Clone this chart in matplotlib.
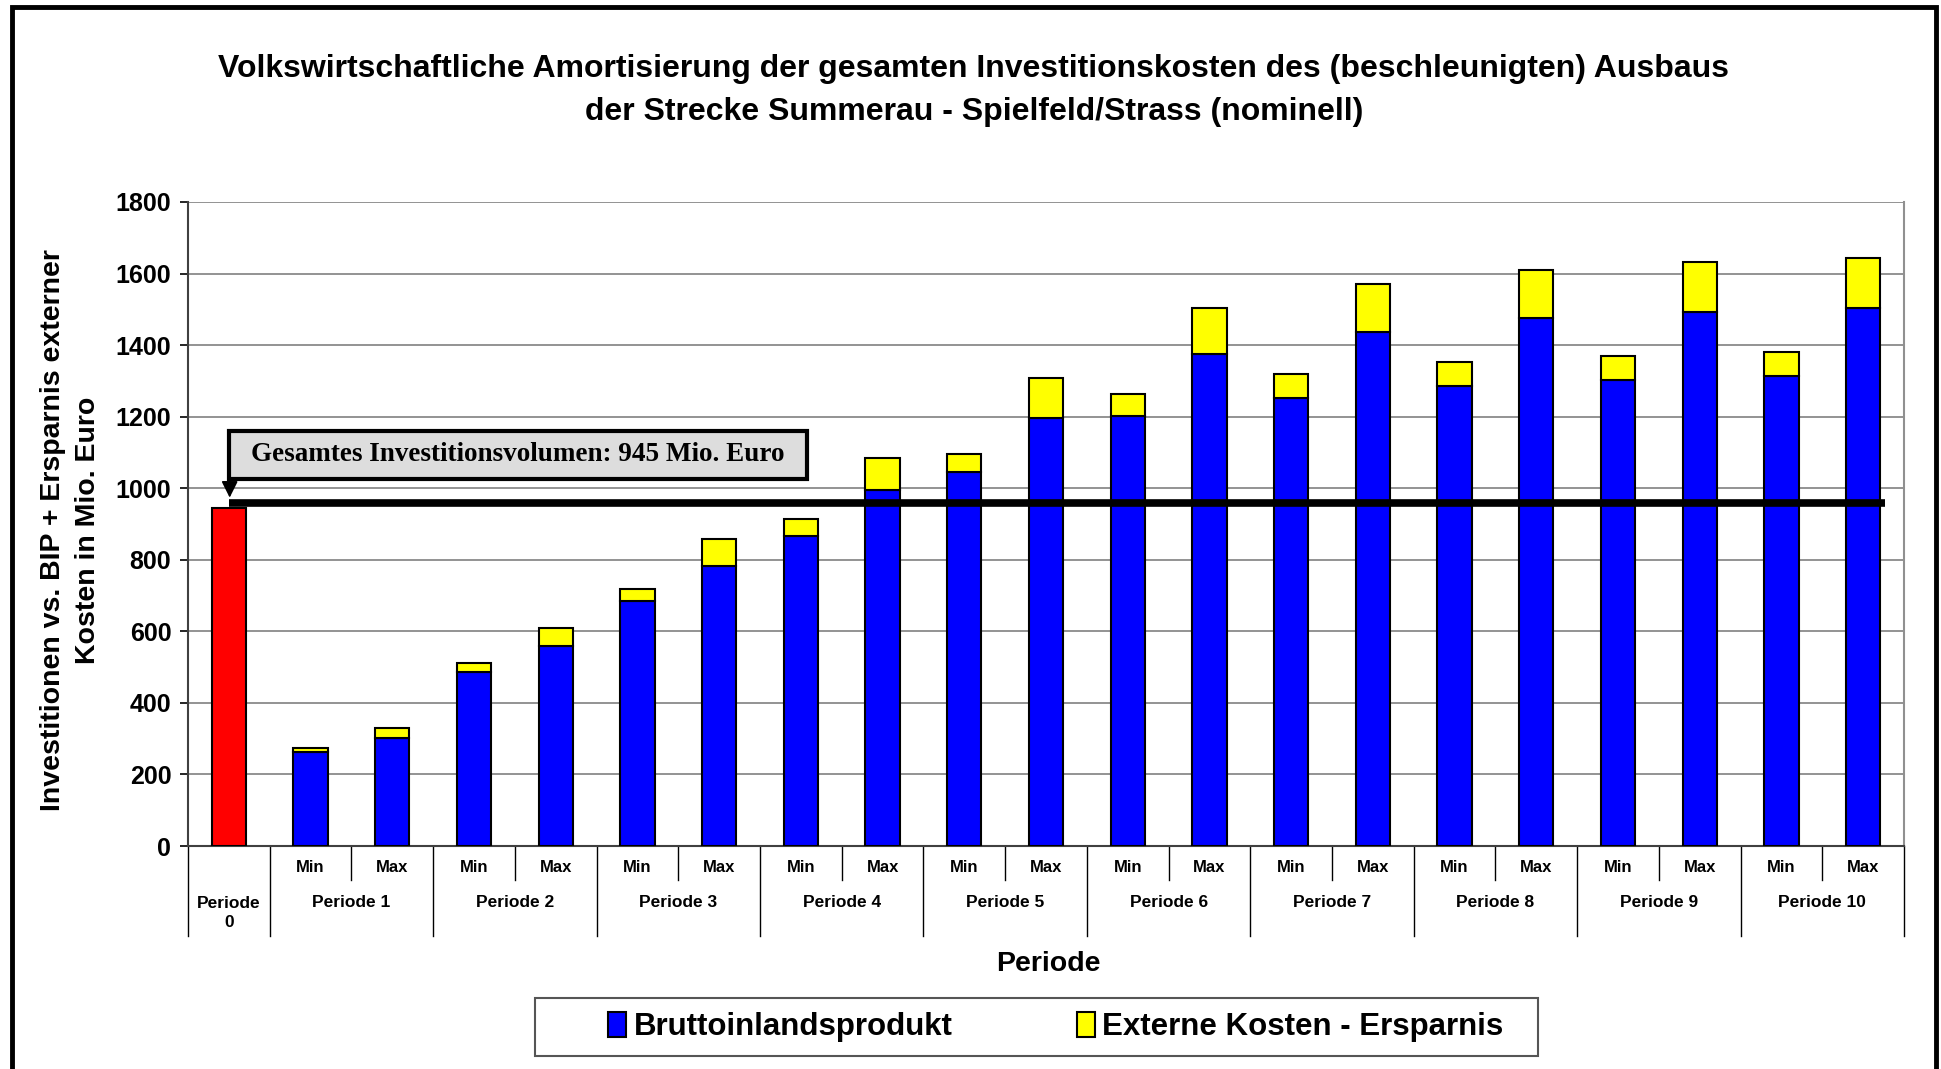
import matplotlib.pyplot as plt
from matplotlib.patches import Rectangle, Patch

plt.rcParams['font.family'] = ['Liberation Sans', 'DejaVu Sans']

# data (Mio. Euro)
perioden = ["Periode 1", "Periode 2", "Periode 3", "Periode 4", "Periode 5",
            "Periode 6", "Periode 7", "Periode 8", "Periode 9", "Periode 10"]
varianten = ["Min", "Max"]
investition = 945
bip_min = [263, 487, 684, 867, 1046, 1203, 1253, 1287, 1303, 1314]
bip_max = [303, 560, 783, 996, 1197, 1376, 1438, 1477, 1493, 1505]
ext_min = [12, 24, 33, 47, 51, 61, 67, 67, 67, 68]
ext_max = [28, 50, 74, 89, 112, 129, 134, 134, 140, 139]
schwelle = 960

W, H = 1941, 1069
fig = plt.figure(figsize=(W / 100, H / 100), dpi=100)
ax = fig.add_axes([188 / W, 223 / H, 1716 / W, 644 / H])

# interleave min / max
bip, ext = [], []
for i in range(len(perioden)):
    bip += [bip_min[i], bip_max[i]]
    ext += [ext_min[i], ext_max[i]]
x = list(range(1, len(bip) + 1))

bw = 0.42
ax.bar(0, investition, width=bw, color='#ff0000', edgecolor='black', linewidth=1.5, zorder=3)
ax.bar(x, bip, width=bw, color='#0000ff', edgecolor='black', linewidth=1.5, zorder=3)
ax.bar(x, ext, bottom=bip, width=bw, color='#ffff00', edgecolor='black', linewidth=1.5, zorder=3)

# thick line for the investment volume
ax.plot([0, 20.27], [schwelle, schwelle], color='black', lw=5.5, solid_capstyle='butt', zorder=4)

ax.set_xlim(-0.5, 20.5)
ax.set_ylim(0, 1800)
ax.set_yticks(range(0, 1801, 200))
ax.tick_params(axis='y', labelsize=18, length=6, width=1.2, pad=6)
for t in ax.get_yticklabels():
    t.set_fontweight('bold')
ax.set_xticks([])
ax.yaxis.grid(True, color='#808080', lw=1.2)
ax.set_axisbelow(True)
ax.spines['top'].set_visible(False)
ax.spines['right'].set_color('#909090')
ax.spines['right'].set_linewidth(1.5)
ax.spines['left'].set_color('#404040')
ax.spines['left'].set_linewidth(1.5)
ax.spines['bottom'].set_color('#404040')
ax.spines['bottom'].set_linewidth(1.5)

# two-level category axis
tr = ax.get_xaxis_transform()
for i, p in enumerate(perioden):
    xm = 2 * i + 1
    for j, v in enumerate(varianten):
        ax.text(xm + j, -0.034, v, transform=tr, ha='center', va='center',
                fontsize=12, fontweight='bold')
    ax.text(xm + 0.5, -0.087, p, transform=tr, ha='center', va='center',
            fontsize=12.5, fontweight='bold')
    ax.plot([xm + 0.5, xm + 0.5], [0, -0.053], transform=tr, color='black', lw=1, clip_on=False)
ax.text(0, -0.104, "Periode\n0", transform=tr, ha='center', va='center',
        fontsize=12.5, fontweight='bold', linespacing=1.4)
for xs in [-0.5] + [0.5 + 2 * k for k in range(11)]:
    ax.plot([xs, xs], [0, -0.14], transform=tr, color='black', lw=1, clip_on=False)

# annotation box with arrow
ax.add_patch(Rectangle((0, 1026), 7.07, 134, facecolor='#dddddd', edgecolor='black',
                       lw=3, zorder=5))
ax.text(3.53, 1093, "Gesamtes Investitionsvolumen: 945 Mio. Euro", ha='center', va='center',
        fontsize=19.5, fontweight='bold', family='Liberation Serif', zorder=6)
ax.annotate('', xy=(0.01, 966), xytext=(0.01, 1026),
            arrowprops=dict(arrowstyle='-|>', color='black', lw=1.2, mutation_scale=25),
            zorder=6)

# texts
fig.text(974 / W, 1 - 69 / H, "Volkswirtschaftliche Amortisierung der gesamten Investitionskosten des (beschleunigten) Ausbaus",
         ha='center', va='center', fontsize=23, fontweight='bold')
fig.text(974 / W, 1 - 112 / H, "der Strecke Summerau - Spielfeld/Strass (nominell)",
         ha='center', va='center', fontsize=23, fontweight='bold')
fig.text(71 / W, 1 - 530 / H, "Investitionen vs. BIP + Ersparnis externer\nKosten in Mio. Euro",
         rotation=90, ha='center', va='center', multialignment='center',
         fontsize=20.5, fontweight='bold', linespacing=1.45)
fig.text(1048 / W, 1 - 964 / H, "Periode", ha='center', va='center', fontsize=20.5, fontweight='bold')

# legend: frame drawn separately
fig.patches.append(Rectangle((535 / W, 1 - 1056 / H), 1003 / W, 58 / H, transform=fig.transFigure,
                             facecolor='white', edgecolor='#555555', lw=1.5))
handles = [Patch(facecolor='#0000ff', edgecolor='black', lw=1.5),
           Patch(facecolor='#ffff00', edgecolor='black', lw=1.5)]
fig.legend(handles, ["Bruttoinlandsprodukt", "Externe Kosten - Ersparnis"],
           loc='center', bbox_to_anchor=(1056 / W, 1 - 1027 / H), ncol=2,
           prop={'size': 22.5, 'weight': 'bold'}, frameon=False,
           handlelength=0.55, handleheight=0.85, handletextpad=0.25,
           columnspacing=4.0, borderpad=0.3)

# outer border
fig.patches.append(Rectangle((12 / W, -0.01), 1924 / W, 1 - 7 / H + 0.01, transform=fig.transFigure,
                             fill=False, edgecolor='black', lw=3.5))

fig.savefig("out.png", dpi=100)
